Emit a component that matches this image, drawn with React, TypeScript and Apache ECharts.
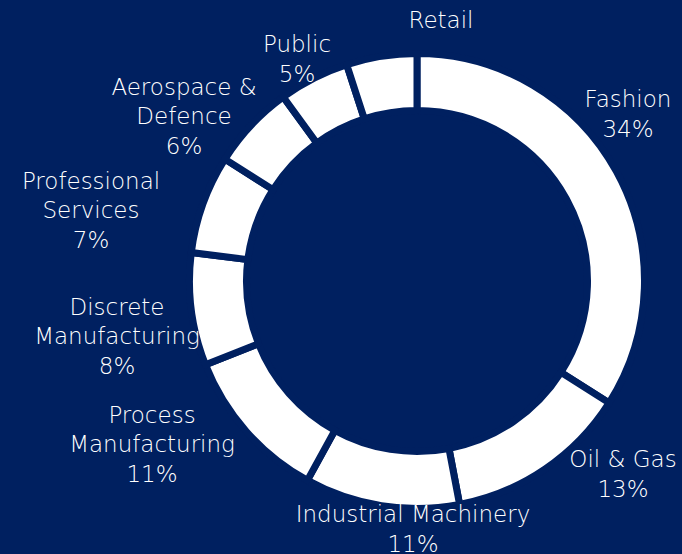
import React, { useEffect, useRef } from "react";
import * as echarts from "echarts";

const categories = [
  "Fashion",
  "Oil & Gas",
  "Industrial Machinery",
  "Process\nManufacturing",
  "Discrete\nManufacturing",
  "Professional\nServices",
  "Aerospace &\nDefence",
  "Public",
  "Retail",
];
const shares = [34, 13, 11, 11, 8, 7, 6, 5, 5];
const hidePercent = ["Retail"];

// label anchor points (centre of each label block), in pixels
const labelX = [628, 623, 413, 152, 117, 91, 184, 297, 441];
const labelY = [114, 474, 529, 444, 336, 210, 116, 59, 20];

const BG = "#002060";

export default function App() {
  const ref = useRef<HTMLDivElement>(null);
  useEffect(() => {
    const chart = echarts.init(ref.current!, null, { renderer: "svg" });
    chart.setOption({
      animation: false,
      backgroundColor: BG,
      series: [
        {
          type: "pie",
          center: [417, 281],
          radius: [170.5, 227.5],
          startAngle: 90,
          clockwise: true,
          avoidLabelOverlap: false,
          itemStyle: { color: "#ffffff", borderColor: BG, borderWidth: 7 },
          emphasis: { disabled: true },
          label: {
            show: true,
            position: "outside",
            color: "#ffffff",
            fontFamily: "DejaVu Sans",
            fontWeight: 300,
            fontSize: 23,
            lineHeight: 29.5,
            align: "center",
            formatter: (p: any) =>
              hidePercent.includes(p.name) ? p.name : `${p.name}\n${p.value}%`,
          },
          labelLine: { show: false },
          labelLayout: (p: any) => ({
            x: labelX[p.dataIndex],
            y: labelY[p.dataIndex],
            align: "center",
            verticalAlign: "middle",
          }),
          data: categories.map((c, i) => ({ name: c, value: shares[i] })),
        },
      ],
    });
    return () => chart.dispose();
  }, []);
  return (
    <div
      ref={ref}
      style={{ position: "absolute", left: 0, top: 0, width: 682, height: 554 }}
    />
  );
}
